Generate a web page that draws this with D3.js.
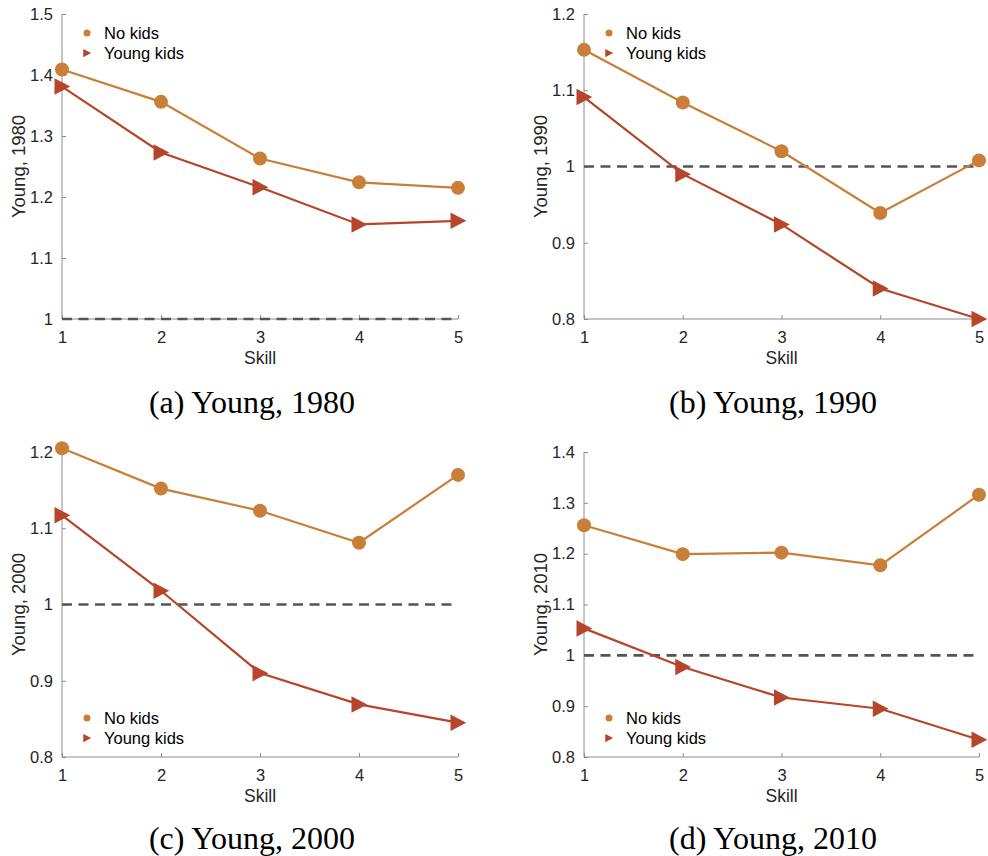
<!DOCTYPE html>
<html>
<head>
<meta charset="utf-8">
<script src="https://cdn.jsdelivr.net/npm/d3@7"></script>
<style>
  html, body { margin: 0; padding: 0; background: #fff; }
  svg { display: block; }
  .tick-label { font-family: "Liberation Sans", Arial, Helvetica, sans-serif; font-size: 16.5px; fill: #262626; }
  .axis-title { font-family: "Liberation Sans", Arial, Helvetica, sans-serif; font-size: 17.5px; fill: #262626; }
  .y-title { font-family: "Liberation Sans", Arial, Helvetica, sans-serif; font-size: 18.5px; fill: #262626; }
  .legend-text { font-family: "Liberation Sans", Arial, Helvetica, sans-serif; font-size: 16.5px; fill: #000; }
  .caption { font-family: "Liberation Serif", "Times New Roman", serif; font-size: 32px; fill: #000; }
</style>
</head>
<body>
<svg id="chart" width="988" height="856"></svg>
<script>
// Skill groups on the horizontal axis
const skills = [1, 2, 3, 4, 5];

// Series values per panel
const noKids1980    = [1.409, 1.356, 1.263, 1.224, 1.215];
const youngKids1980 = [1.381, 1.273, 1.216, 1.155, 1.161];
const noKids1990    = [1.153, 1.084, 1.020, 0.939, 1.008];
const youngKids1990 = [1.091, 0.990, 0.924, 0.840, 0.800];
const noKids2000    = [1.205, 1.152, 1.123, 1.081, 1.170];
const youngKids2000 = [1.117, 1.018, 0.910, 0.869, 0.845];
const noKids2010    = [1.256, 1.199, 1.202, 1.177, 1.316];
const youngKids2010 = [1.053, 0.977, 0.917, 0.895, 0.834];

// Tick labels for each panel's vertical axis
const yTicks1980 = [1, 1.1, 1.2, 1.3, 1.4, 1.5];
const yTicks1990 = [0.8, 0.9, 1, 1.1, 1.2];
const yTicks2000 = [0.8, 0.9, 1, 1.1, 1.2];
const yTicks2010 = [0.8, 0.9, 1, 1.1, 1.2, 1.3, 1.4];

const seriesNames = ["No kids", "Young kids"];
const reference = 1;

const colNoKids = "#c97f38";
const colYoung = "#b5452b";
const axisColor = "#8c8c8c";
const textColor = "#262626";

const panels = [
  { year: "1980", caption: "(a) Young, 1980", noKids: noKids1980, young: youngKids1980, ticks: yTicks1980,
    x0: 62, x1: 458, y0: 14, y1: 319, capX: 252, capY: 413, legend: "top" },
  { year: "1990", caption: "(b) Young, 1990", noKids: noKids1990, young: youngKids1990, ticks: yTicks1990,
    x0: 584, x1: 979, y0: 14, y1: 319, capX: 773, capY: 413, legend: "top" },
  { year: "2000", caption: "(c) Young, 2000", noKids: noKids2000, young: youngKids2000, ticks: yTicks2000,
    x0: 62, x1: 458, y0: 452, y1: 757, capX: 252, capY: 849, legend: "bottom" },
  { year: "2010", caption: "(d) Young, 2010", noKids: noKids2010, young: youngKids2010, ticks: yTicks2010,
    x0: 584, x1: 979, y0: 452, y1: 757, capX: 773, capY: 849, legend: "bottom" }
];

const svg = d3.select("#chart");

// Right-pointing triangle centred on the data point
function triPath(s) {
  return `M${-s * 0.5},${-s * 0.55}L${s * 0.55},0L${-s * 0.5},${s * 0.55}Z`;
}

panels.forEach(p => {
  const g = svg.append("g");
  const x = d3.scaleLinear().domain([1, 5]).range([p.x0, p.x1]);
  const y = d3.scaleLinear().domain(d3.extent(p.ticks)).range([p.y1, p.y0]);

  // Axes: inward ticks, light gray lines
  const xAxis = d3.axisBottom(x).tickValues(skills).tickSize(-4).tickPadding(10).tickFormat(d3.format("d"));
  const yAxis = d3.axisLeft(y).tickValues(p.ticks).tickSize(-4).tickPadding(8).tickFormat(d => String(+d.toFixed(1)));

  const gx = g.append("g").attr("transform", `translate(0,${p.y1})`).call(xAxis);
  const gy = g.append("g").attr("transform", `translate(${p.x0},0)`).call(yAxis);
  [gx, gy].forEach(a => {
    a.attr("font-size", null).attr("font-family", null);
    a.select(".domain").attr("stroke", axisColor).attr("stroke-width", 1);
    a.selectAll(".tick line").attr("stroke", axisColor);
    a.selectAll(".tick text").attr("class", "tick-label").attr("fill", textColor);
  });
  gx.selectAll(".tick text").attr("dy", "0.85em");
  gy.selectAll(".tick text").attr("dx", "-1");
  // left and bottom frame lines only
  gx.select(".domain").attr("d", `M${p.x0},0H${p.x1}`);
  gy.select(".domain").attr("d", `M0,${p.y1}V${p.y0}`);

  // Axis titles
  g.append("text").attr("class", "axis-title")
    .attr("x", (p.x0 + p.x1) / 2).attr("y", p.y1 + 45)
    .attr("text-anchor", "middle").text("Skill");
  g.append("text").attr("class", "y-title")
    .attr("transform", `translate(${p.x0 - 37},${(p.y0 + p.y1) / 2}) rotate(-90)`)
    .attr("text-anchor", "middle").text(`Young, ${p.year}`);

  // Reference line at 1
  g.append("line")
    .attr("x1", x(1)).attr("x2", x(5))
    .attr("y1", y(reference)).attr("y2", y(reference))
    .attr("stroke", "#555").attr("stroke-width", 2.6)
    .attr("stroke-dasharray", "10,6.5");

  const line = d3.line().x((d, i) => x(skills[i])).y(d => y(d));

  // No kids: circles
  g.append("path").datum(p.noKids).attr("d", line)
    .attr("fill", "none").attr("stroke", colNoKids).attr("stroke-width", 2.2);
  g.selectAll(".dot").data(p.noKids).enter().append("circle")
    .attr("cx", (d, i) => x(skills[i])).attr("cy", d => y(d)).attr("r", 7)
    .attr("fill", colNoKids);

  // Young kids: right triangles
  g.append("path").datum(p.young).attr("d", line)
    .attr("fill", "none").attr("stroke", colYoung).attr("stroke-width", 2.2);
  g.selectAll(".tri").data(p.young).enter().append("path")
    .attr("transform", (d, i) => `translate(${x(skills[i])},${y(d)})`)
    .attr("d", triPath(15)).attr("fill", colYoung);

  // Legend
  const ly = p.legend === "top" ? p.y0 + 19 : p.y1 - 39;
  const lx = p.x0 + 25;
  const lg = g.append("g");
  lg.append("circle").attr("cx", lx).attr("cy", ly).attr("r", 3.5).attr("fill", colNoKids);
  lg.append("path").attr("transform", `translate(${lx},${ly + 20})`).attr("d", triPath(7.5)).attr("fill", colYoung);
  seriesNames.forEach((n, i) => {
    lg.append("text").attr("class", "legend-text")
      .attr("x", lx + 17).attr("y", ly + i * 20).attr("dy", "0.35em").text(n);
  });

  // Caption
  g.append("text").attr("class", "caption")
    .attr("x", p.capX).attr("y", p.capY).attr("text-anchor", "middle").text(p.caption);
});
</script>
</body>
</html>
